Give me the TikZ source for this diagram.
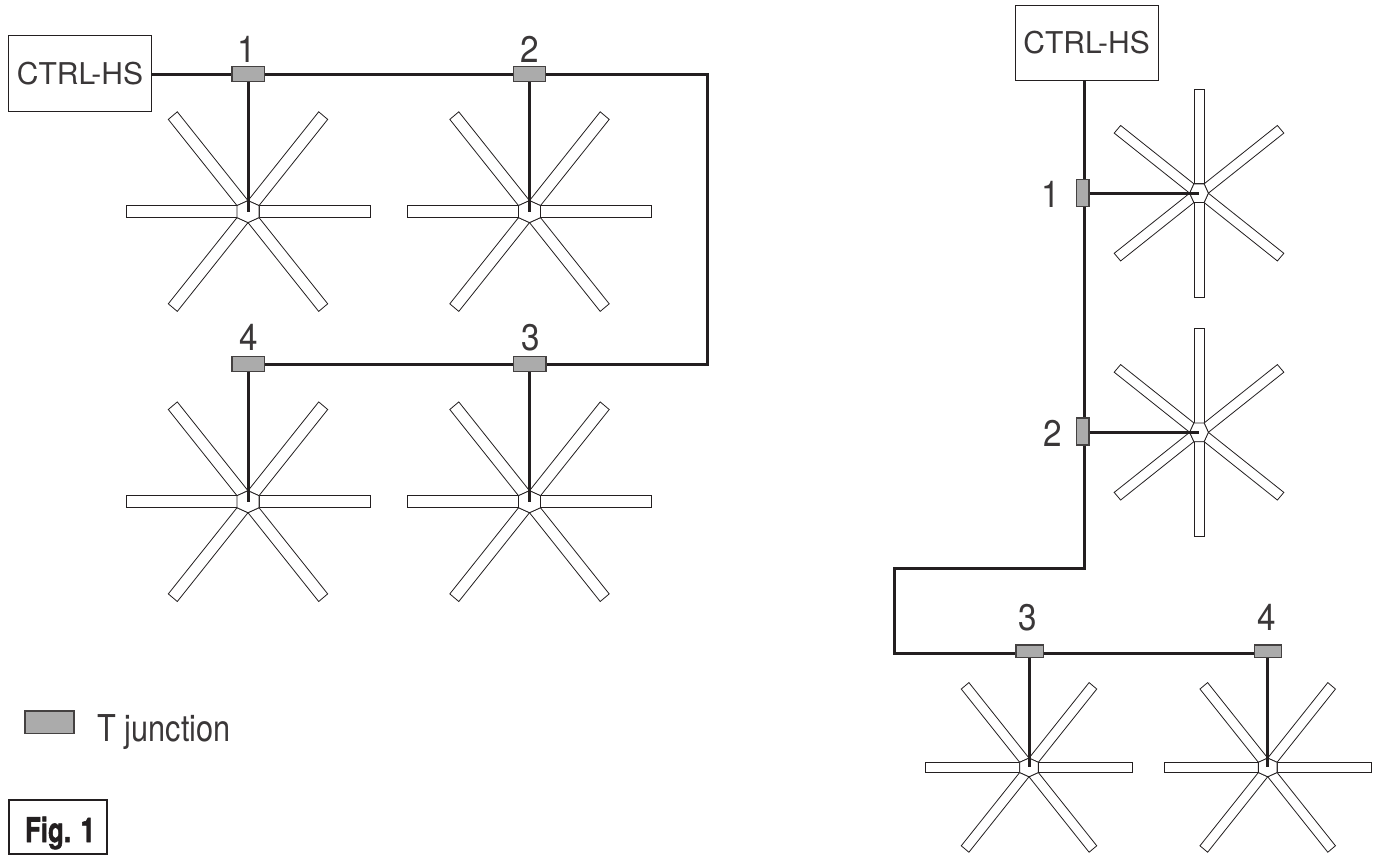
\documentclass[tikz,border=0pt]{standalone}
\usepackage{fontspec}
\setmainfont{TeX Gyre Heros}
\newfontfamily\figfont[BoldFeatures={FakeBold=1.6}]{TeX Gyre Heros}
\definecolor{ink}{HTML}{231F20}
\definecolor{soft}{HTML}{3A3738}
\definecolor{tfill}{HTML}{ABABAB}
\newcommand{\narrowtxt}[2]{\scalebox{#1}[1]{#2}}
\tikzset{
  x=1pt,y=-1pt,
  wire/.style={draw=ink,line width=3pt,line join=miter},
  stem/.style={draw=ink,line width=3pt},
  ctrlbox/.style={draw=ink,line width=1pt,fill=white,inner sep=0pt,font=\fontsize{30}{30}\selectfont,text=soft},
  tj/.style={draw=ink!85,line width=1.2pt,fill=tfill,inner sep=0pt},
  num/.style={anchor=base,inner sep=0pt,font=\fontsize{37}{37}\selectfont,text=soft},
  bladeline/.style={draw=ink,line width=.8pt,fill=white,line join=miter},
  fanpic/.pic={
    \foreach \s in {1,-1}{
      \path[bladeline] (\s*11,-6) -- (\s*122,-6) -- (\s*122,6) -- (\s*11,6) -- cycle;
      \path[bladeline] (0,-11) -- (\s*70.7,-99.8) -- (\s*79.7,-92.2) -- (\s*11,-6) -- cycle;
      \path[bladeline] (0,11) -- (\s*70.7,99.8) -- (\s*79.7,92.2) -- (\s*11,6) -- cycle;
    }
    \path[bladeline] (0,-11) -- (11,-6) -- (11,6) -- (0,11) -- (-11,6) -- (-11,-6) -- cycle;
  }
}
\begin{document}
\begin{tikzpicture}
\useasboundingbox (0,0) rectangle (1375,854);
% fan centres
\coordinate (f1) at (248,211.6);
\coordinate (f2) at (529.5,211.6);
\coordinate (f3) at (529.5,501.7);
\coordinate (f4) at (248,501.7);
\coordinate (g1) at (1199,193.2);
\coordinate (g2) at (1199,432.3);
\coordinate (g3) at (1029,767.4);
\coordinate (g4) at (1267.7,767.4);
\foreach \c in {f1,f2,f3,f4}{ \pic at (\c) {fanpic}; }
\foreach \c in {g1,g2}{ \pic[scale=.85,rotate=90] at (\c) {fanpic}; }
\foreach \c in {g3,g4}{ \pic[scale=.85] at (\c) {fanpic}; }
% left system
\node[ctrlbox,minimum width=143pt,minimum height=75.5pt] (ctrlL) at (80,73.4) {\narrowtxt{1}{CTRL-HS}};
\node[tj,minimum width=32.5pt,minimum height=14.5pt] (t1) at (248.3,74) {};
\node[tj,minimum width=32.5pt,minimum height=14.5pt] (t2) at (529.5,74) {};
\node[tj,minimum width=32.5pt,minimum height=14.5pt] (t3) at (529.8,364) {};
\node[tj,minimum width=32.5pt,minimum height=14.5pt] (t4) at (248.3,364) {};
\coordinate (c1) at (707.3,74);
\coordinate (c2) at (707.3,364);
\draw[wire] (ctrlL.east |- t1) -- (t1.west);
\draw[wire] (t1.east) -- (t2.west);
\draw[wire] (t2.east) -- (c1) -- (c2) -- (t3.east);
\draw[wire] (t3.west) -- (t4.east);
\draw[stem] (f1 |- t1.south) -- (f1);
\draw[stem] (f2 |- t2.south) -- (f2);
\draw[stem] (f3 |- t3.south) -- (f3);
\draw[stem] (f4 |- t4.south) -- (f4);
\node[num] (n1) at (247,62) {\narrowtxt{.9}{1}};
\node[num] (n2) at (530,62.5) {\narrowtxt{.9}{2}};
\node[num] (n3) at (531,350) {\narrowtxt{.9}{3}};
\node[num] (n4) at (248.5,350) {\narrowtxt{.9}{4}};
% right system
\node[ctrlbox,minimum width=143pt,minimum height=75.5pt] (ctrlR) at (1086.6,43) {\narrowtxt{1}{CTRL-HS}};
\node[tj,minimum width=12.7pt,minimum height=27pt] (r1) at (1082.7,192.8) {};
\node[tj,minimum width=12.7pt,minimum height=27pt] (r2) at (1082.7,431.5) {};
\node[tj,minimum width=27.3pt,minimum height=12.3pt] (r3) at (1029.6,651.2) {};
\node[tj,minimum width=27.3pt,minimum height=12.3pt] (r4) at (1268,651.2) {};
\coordinate (wx) at (1084.7,300);
\coordinate (d1) at (1084.7,568);
\coordinate (d2) at (894.7,568);
\coordinate (d3) at (894.7,653.3);
\draw[wire] (ctrlR.south -| wx) -- (r1.north -| wx);
\draw[wire] (r1.south -| wx) -- (r2.north -| wx);
\draw[wire] (r2.south -| wx) -- (d1) -- (d2) -- (d3) -- (r3.west |- d3);
\draw[wire] (r3.east |- d3) -- (r4.west |- d3);
\draw[stem] (r1.east |- g1) -- (g1);
\draw[stem] (r2.east |- g2) -- (g2);
\draw[stem] (g3 |- r3.south) -- (g3);
\draw[stem] (g4 |- r4.south) -- (g4);
\node[num] (m1) at (1051,207) {\narrowtxt{.9}{1}};
\node[num] (m2) at (1052.5,446) {\narrowtxt{.9}{2}};
\node[num] (m3) at (1027.5,630) {\narrowtxt{.9}{3}};
\node[num] (m4) at (1266.5,630) {\narrowtxt{.9}{4}};
% legend
\node[tj,minimum width=49pt,minimum height=22.3pt] (leg) at (49.5,722.2) {};
\node[anchor=base west,inner sep=0pt,font=\fontsize{37}{37}\selectfont,text=soft] (legt) at (97.5,741.7) {\narrowtxt{.83}{T junction}};
\node[draw=ink,line width=2.4pt,fill=white,inner sep=0pt,outer sep=0pt,minimum width=98pt,minimum height=54.5pt] (fig) at (58.2,827.3) {};
\node[anchor=base,inner sep=0pt,font=\figfont\bfseries\fontsize{34}{34}\selectfont,text=ink] (figt) at (60,842) {\narrowtxt{.76}{Fig. 1}};
\end{tikzpicture}
\end{document}
